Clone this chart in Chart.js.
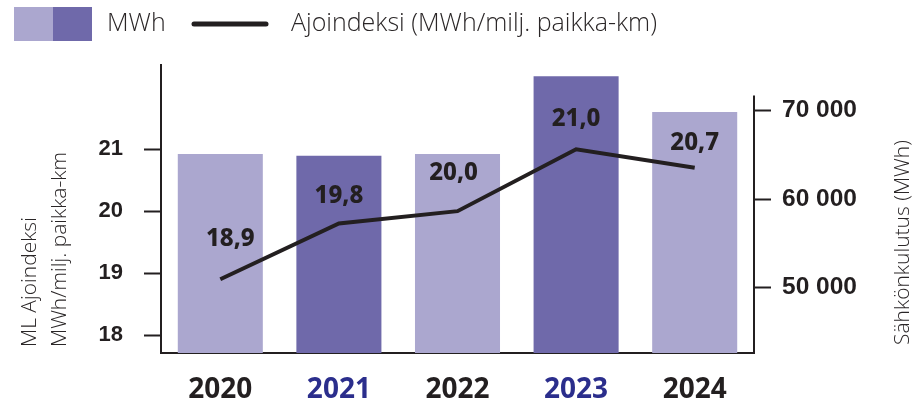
<!DOCTYPE html>
<html>
<head>
<meta charset="utf-8">
<script src="https://cdn.jsdelivr.net/npm/chart.js"></script>
<style>
html, body { margin: 0; padding: 0; background: #fff; }
#wrap { position: relative; width: 917px; height: 404px; }
</style>
</head>
<body>
<div id="wrap"><canvas id="chart"></canvas></div>
<script>
var years = ['2020', '2021', '2022', '2023', '2024'];
var mwh = [65100, 64900, 65100, 73900, 69850];
var ajoindeksi = [18.9, 19.8, 20.0, 21.0, 20.7];
var leftTicks = [18, 19, 20, 21];
var rightTicks = [50000, 60000, 70000];

var lightPurple = '#aba7cf';
var darkPurple = '#6f69aa';
var ink = '#231f20';
var navy = '#2b2e8c';
var tickFont = '"Liberation Sans", Arial, sans-serif';
var textFont = '"Open Sans", "Noto Sans", sans-serif';
// how far each value label sits above its point
var labelLift = [40, 27, 38, 30, 25];
var labelShift = [10, 0, -4, 0, 0];

function barColor(i) {
    return i % 2 == 1 ? darkPurple : lightPurple;
}

function formatThousands(v) {
    return String(v).replace(/\B(?=(\d{3})+(?!\d))/g, ' ');
}

var extras = {
    id: 'extras',
    afterDatasetsDraw: function(chart) {
        var ctx = chart.ctx;
        var meta = chart.getDatasetMeta(0);
        ctx.save();
        ctx.fillStyle = ink;
        ctx.font = '800 24px "Noto Sans", sans-serif';
        ctx.textAlign = 'center';
        ctx.textBaseline = 'middle';
        for (var i = 0; i < meta.data.length; i++) {
            var pt = meta.data[i];
            var txt = ajoindeksi[i].toFixed(1).replace('.', ',');
            ctx.fillText(txt, pt.x + labelShift[i], pt.y - labelLift[i]);
        }
        ctx.restore();
    },
    afterDraw: function(chart) {
        var ctx = chart.ctx;
        var area = chart.chartArea;
        var yR = chart.scales.y1;
        ctx.save();
        // right axis line starts a bit above the top tick
        ctx.strokeStyle = ink;
        ctx.lineWidth = 2;
        ctx.beginPath();
        ctx.moveTo(area.right, yR.getPixelForValue(71700));
        ctx.lineTo(area.right, area.bottom + 1);
        ctx.stroke();

        // legend
        ctx.fillStyle = lightPurple;
        ctx.fillRect(14, 7, 39, 34);
        ctx.fillStyle = darkPurple;
        ctx.fillRect(53, 7, 39, 34);
        ctx.strokeStyle = ink;
        ctx.lineWidth = 5;
        ctx.lineCap = 'round';
        ctx.beginPath();
        ctx.moveTo(194, 24);
        ctx.lineTo(266, 24);
        ctx.stroke();
        ctx.fillStyle = '#2a2627';
        ctx.font = '300 25px ' + textFont;
        ctx.textBaseline = 'middle';
        ctx.textAlign = 'left';
        ctx.fillText('MWh', 107, 24);
        ctx.fillText('Ajoindeksi (MWh/milj. paikka-km)', 291, 24);

        // axis titles
        ctx.font = '300 21px ' + textFont;
        ctx.save();
        ctx.translate(30, 347);
        ctx.rotate(-Math.PI / 2);
        ctx.fillText('ML Ajoindeksi', 0, 0);
        ctx.restore();
        ctx.save();
        ctx.translate(60, 347);
        ctx.rotate(-Math.PI / 2);
        ctx.fillText('MWh/milj. paikka-km', 0, 0);
        ctx.restore();
        ctx.save();
        ctx.translate(903, 345);
        ctx.rotate(-Math.PI / 2);
        ctx.fillText('Sähkönkulutus (MWh)', 0, 0);
        ctx.restore();
        ctx.restore();
    }
};

var ctx = document.getElementById('chart');
var chart = new Chart(ctx, {
    data: {
        labels: years,
        datasets: [{
            type: 'line',
            label: 'Ajoindeksi (MWh/milj. paikka-km)',
            data: ajoindeksi,
            yAxisID: 'y',
            borderColor: ink,
            borderWidth: 4,
            pointRadius: 0,
            tension: 0,
            order: 0
        }, {
            type: 'bar',
            label: 'MWh',
            data: mwh,
            yAxisID: 'y1',
            backgroundColor: years.map(function(y, i) { return barColor(i); }),
            barPercentage: 0.717,
            categoryPercentage: 1,
            order: 1
        }]
    },
    options: {
        responsive: true,
        maintainAspectRatio: false,
        animation: false,
        layout: {
            padding: { top: 65, bottom: 0, left: 0, right: 0 }
        },
        plugins: {
            legend: { display: false },
            tooltip: { enabled: false }
        },
        scales: {
            x: {
                grid: { display: true, drawOnChartArea: false, drawTicks: false },
                border: { display: true, color: ink, width: 2 },
                ticks: {
                    padding: 20,
                    font: { family: '"Noto Sans", sans-serif', size: 28, weight: 'bold' },
                    color: function(c) { return c.index % 2 == 1 ? navy : ink; }
                },
                afterFit: function(scale) { scale.height = 51; }
            },
            y: {
                position: 'left',
                min: 17.71,
                max: 22.36,
                afterBuildTicks: function(scale) {
                    scale.ticks = leftTicks.map(function(v) { return { value: v }; });
                },
                grid: { drawOnChartArea: false, drawTicks: true, tickLength: 17, tickWidth: 2, tickColor: ink },
                border: { display: true, color: ink, width: 2 },
                ticks: {
                    padding: 21,
                    color: ink,
                    font: { family: tickFont, size: 22, weight: 'bold' }
                },
                afterFit: function(scale) { scale.width = 161; }
            },
            y1: {
                position: 'right',
                min: 42620,
                max: 75160,
                afterBuildTicks: function(scale) {
                    scale.ticks = rightTicks.map(function(v) { return { value: v }; });
                },
                grid: { drawOnChartArea: false, drawTicks: true, tickLength: 17, tickWidth: 2, tickColor: ink },
                border: { display: false },
                ticks: {
                    padding: 11,
                    color: ink,
                    font: { family: tickFont, size: 24.5, weight: 'bold' },
                    callback: function(v) { return formatThousands(v); }
                },
                afterFit: function(scale) { scale.width = 163; }
            }
        }
    },
    plugins: [extras]
});
</script>
</body>
</html>
